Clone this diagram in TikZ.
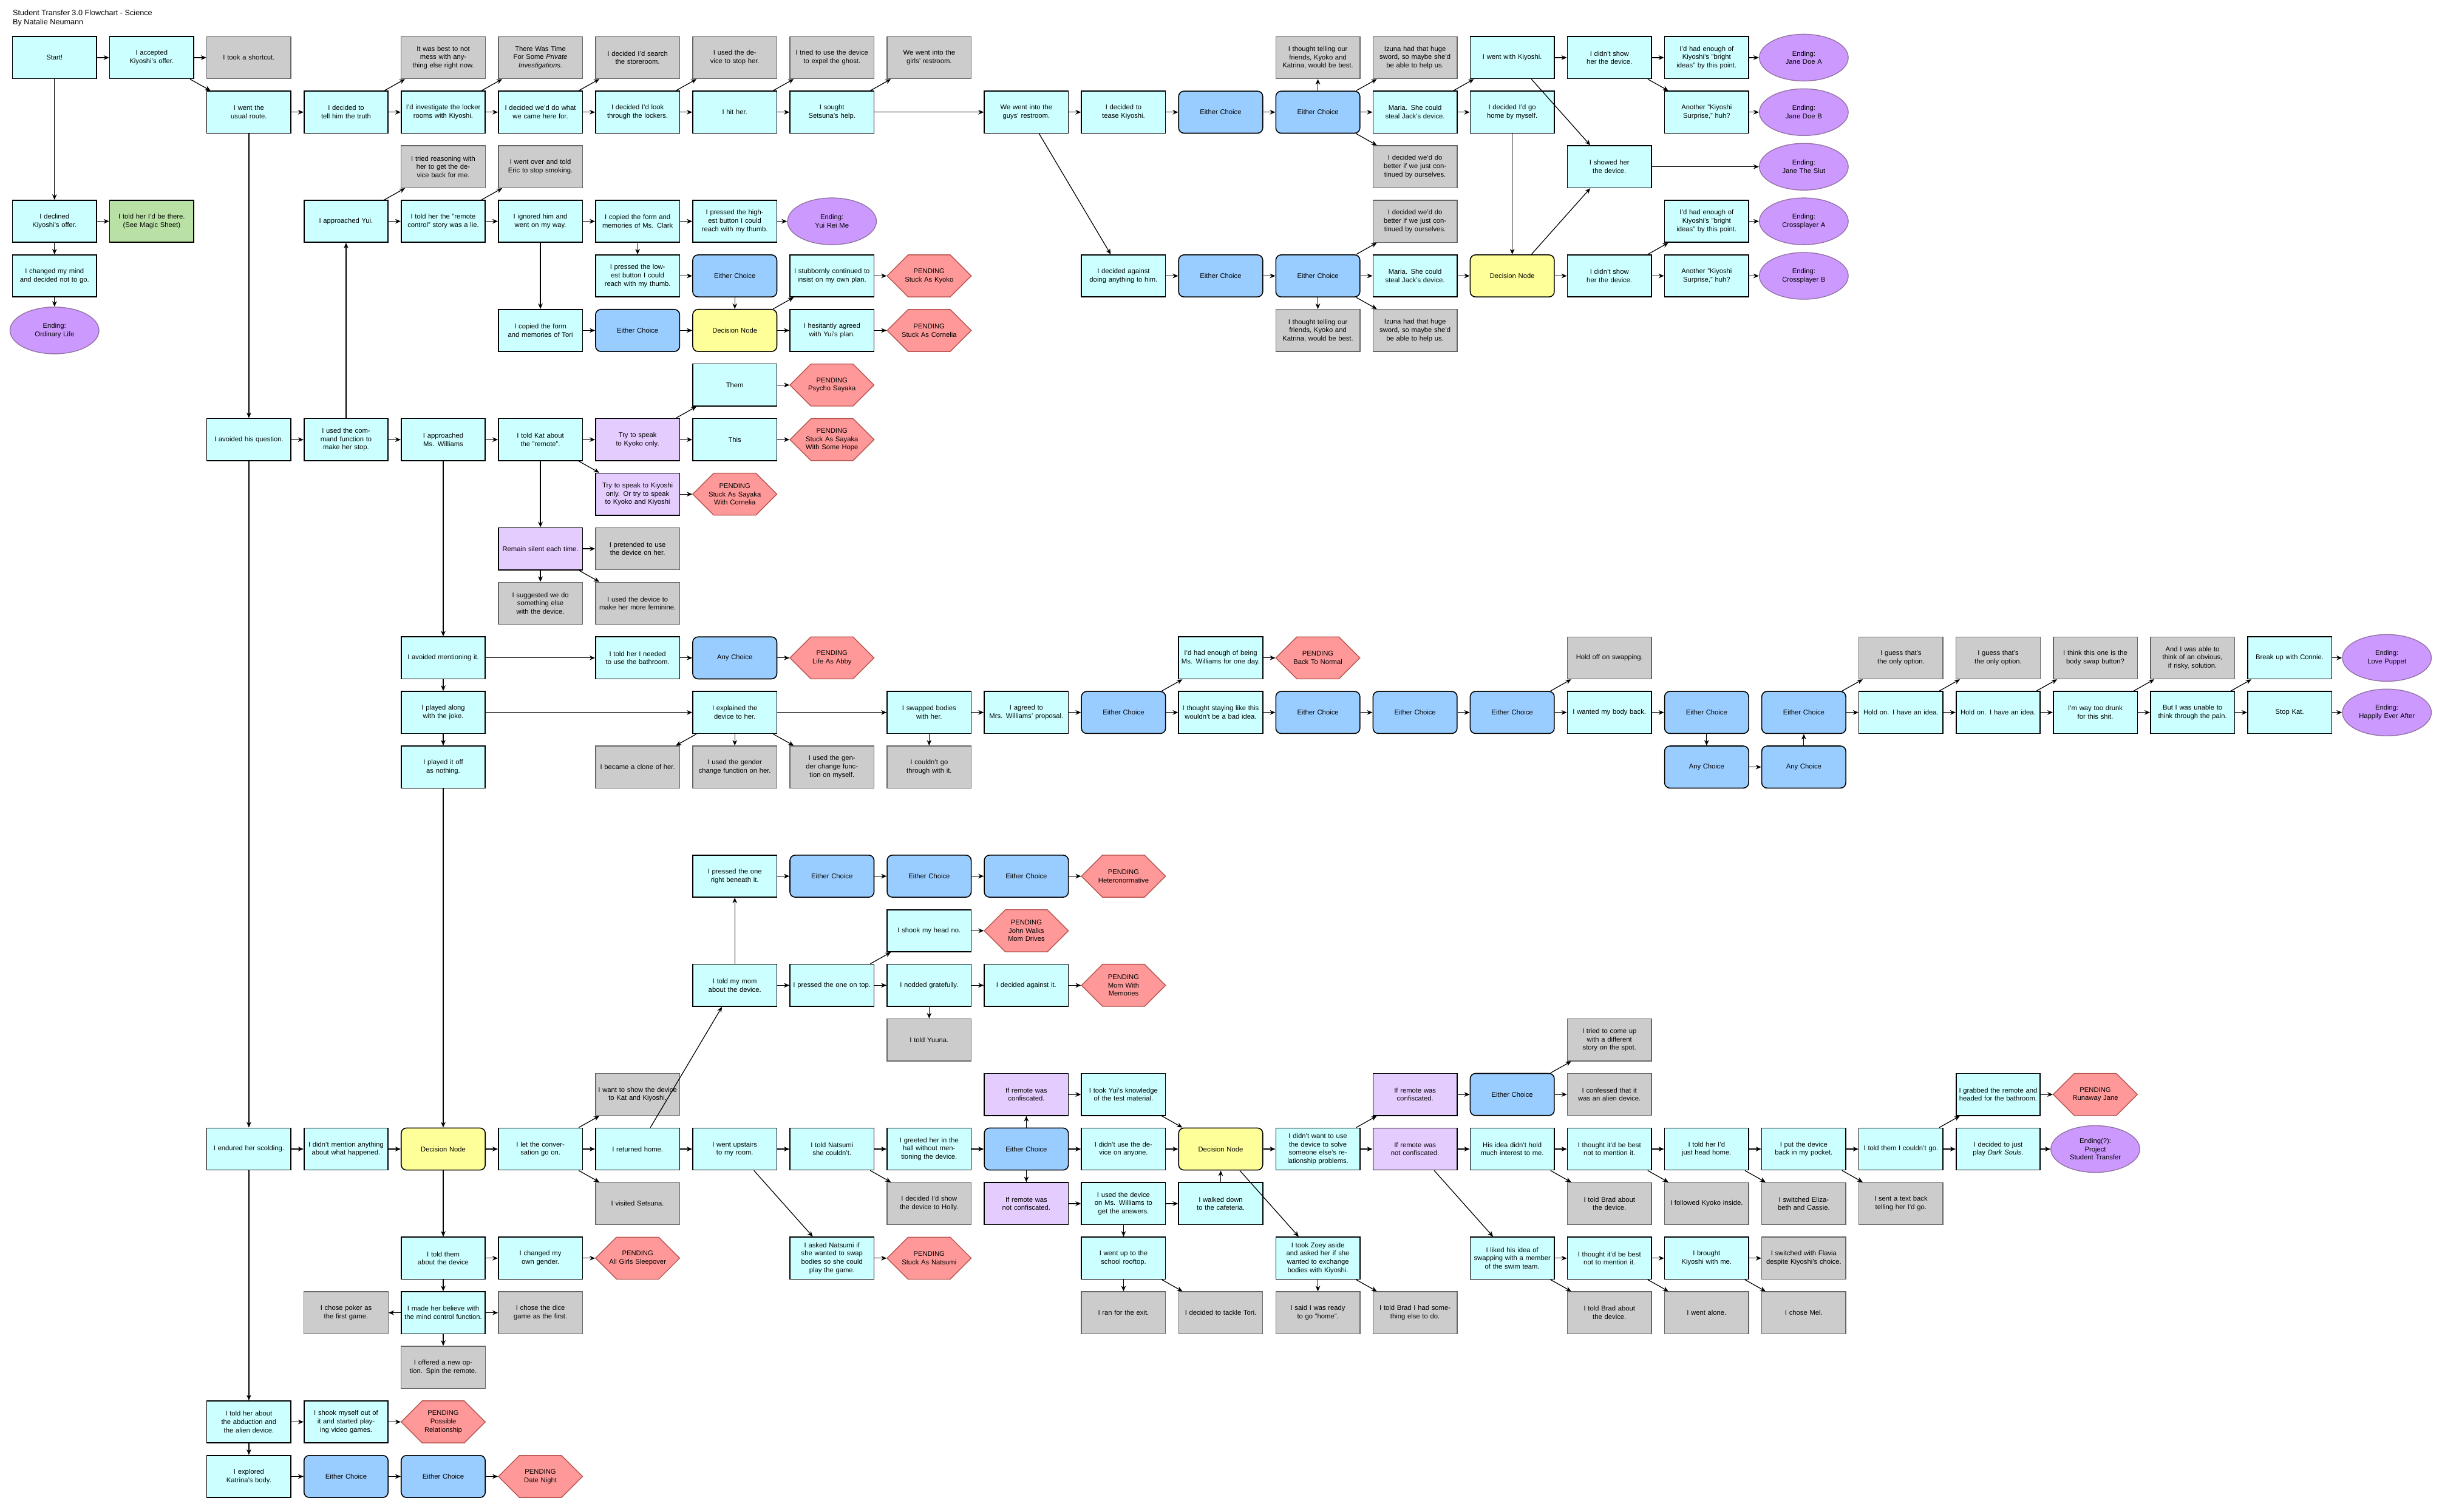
\documentclass[tikz,border=0pt]{standalone}
\usepackage{fontspec}
\setmainfont{Liberation Sans}
\usetikzlibrary{shapes.geometric,arrows.meta}
\definecolor{cyf}{HTML}{CCFFFF}
\definecolor{grf}{HTML}{CCCCCC}
\definecolor{grd}{HTML}{666666}
\definecolor{puf}{HTML}{E5CCFF}
\definecolor{blf}{HTML}{99CCFF}
\definecolor{yef}{HTML}{FFFF99}
\definecolor{gnf}{HTML}{B9E0A5}
\definecolor{enf}{HTML}{CC99FF}
\definecolor{end}{HTML}{9673A6}
\definecolor{hxf}{HTML}{FF9999}
\definecolor{hxd}{HTML}{B85450}
\tikzset{
 base/.style={minimum width=1.385cm,minimum height=0.693cm,inner sep=0.5pt,text width=1.3cm,align=center,font=\fontsize{3.2}{3.9}\selectfont},
 cy/.style={base,fill=cyf,draw=black,line width=0.45pt},
 gr/.style={base,fill=grf,draw=grd,line width=0.4pt},
 pu/.style={base,fill=puf,draw=black,line width=0.45pt},
 bl/.style={base,fill=blf,draw=black,line width=0.45pt,rounded corners=2.5pt},
 ye/.style={base,fill=yef,draw=black,line width=0.45pt,rounded corners=2.5pt},
 gn/.style={base,fill=gnf,draw=black,line width=0.45pt},
 en/.style={base,ellipse,fill=enf,draw=end,line width=0.4pt,minimum height=0.77cm,text width=1.0cm},
 hx/.style={base,text width=1.0cm},
 arr/.style={-{Stealth[length=2.6pt,width=2.2pt]},line width=0.35pt}
}
\newcommand\N[4]{\node[#1] (n#2-#3) at ({35+62.4*#2},{37+35.05*#3}) {#4};}
\newcommand\HX[3]{\filldraw[fill=hxf,draw=hxd,line width=0.4pt] ({35+62.4*#1-27},{37+35.05*#2}) -- ++(13.5,-13.5) -- ++(27,0) -- ++(13.5,13.5) -- ++(-13.5,13.5) -- ++(-27,0) -- cycle;
 \node[hx] (n#1-#2) at ({35+62.4*#1},{37+35.05*#2}) {PENDING\\#3};}
\begin{document}
\begin{tikzpicture}[x=0.02565cm,y=-0.02565cm]
\useasboundingbox (0,0) rectangle (1568,971);
\node[anchor=north west,align=left,inner sep=0,font=\fontsize{3.6}{4.4}\selectfont] (title) at (8,6) {Student Transfer 3.0 Flowchart - Science\\By Natalie Neumann};
% row 0
\N{cy}{0}{0}{Start!}
\N{cy}{1}{0}{I accepted\\Kiyoshi's offer.}
\N{gr}{2}{0}{I took a shortcut.}
\N{gr}{4}{0}{It was best to not mess with anything else right now.}
\N{gr}{5}{0}{There Was Time For Some \textit{Private Investigations}.}
\N{gr}{6}{0}{I decided I'd search the storeroom.}
\N{gr}{7}{0}{I used the device to stop her.}
\N{gr}{8}{0}{I tried to use the device to expel the ghost.}
\N{gr}{9}{0}{We went into the girls' restroom.}
\N{gr}{13}{0}{I thought telling our friends, Kyoko and Katrina, would be best.}
\N{gr}{14}{0}{Izuna had that huge sword, so maybe she'd be able to help us.}
\N{cy}{15}{0}{I went with Kiyoshi.}
\N{cy}{16}{0}{I didn't show her the device.}
\N{cy}{17}{0}{I'd had enough of Kiyoshi's "bright ideas" by this point.}
\N{en}{18}{0}{Ending:\\Jane Doe A}
% row 1
\N{cy}{2}{1}{I went the\\usual route.}
\N{cy}{3}{1}{I decided to\\tell him the truth}
\N{cy}{4}{1}{I'd investigate the locker rooms with Kiyoshi.}
\N{cy}{5}{1}{I decided we'd do what we came here for.}
\N{cy}{6}{1}{I decided I'd look through the lockers.}
\N{cy}{7}{1}{I hit her.}
\N{cy}{8}{1}{I sought\\Setsuna's help.}
\N{cy}{10}{1}{We went into the guys' restroom.}
\N{cy}{11}{1}{I decided to\\tease Kiyoshi.}
\N{bl}{12}{1}{Either Choice}
\N{bl}{13}{1}{Either Choice}
\N{cy}{14}{1}{Maria. She could steal Jack's device.}
\N{cy}{15}{1}{I decided I'd go home by myself.}
\N{cy}{17}{1}{Another "Kiyoshi Surprise," huh?}
\N{en}{18}{1}{Ending:\\Jane Doe B}
% row 2
\N{gr}{4}{2}{I tried reasoning with her to get the device back for me.}
\N{gr}{5}{2}{I went over and told Eric to stop smoking.}
\N{gr}{14}{2}{I decided we'd do better if we just continued by ourselves.}
\N{cy}{16}{2}{I showed her\\the device.}
\N{en}{18}{2}{Ending:\\Jane The Slut}
% row 3
\N{cy}{0}{3}{I declined\\Kiyoshi's offer.}
\N{gn}{1}{3}{I told her I'd be there. (See Magic Sheet)}
\N{cy}{3}{3}{I approached Yui.}
\N{cy}{4}{3}{I told her the "remote control" story was a lie.}
\N{cy}{5}{3}{I ignored him and went on my way.}
\N{cy}{6}{3}{I copied the form and memories of Ms. Clark}
\N{cy}{7}{3}{I pressed the highest button I could reach with my thumb.}
\N{en}{8}{3}{Ending:\\Yui Rei Me}
\N{gr}{14}{3}{I decided we'd do better if we just continued by ourselves.}
\N{cy}{17}{3}{I'd had enough of Kiyoshi's "bright ideas" by this point.}
\N{en}{18}{3}{Ending:\\Crossplayer A}
% row 4
\N{cy}{0}{4}{I changed my mind and decided not to go.}
\N{cy}{6}{4}{I pressed the lowest button I could reach with my thumb.}
\N{bl}{7}{4}{Either Choice}
\N{cy}{8}{4}{I stubbornly continued to insist on my own plan.}
\HX{9}{4}{Stuck As Kyoko}
\N{cy}{11}{4}{I decided against doing anything to him.}
\N{bl}{12}{4}{Either Choice}
\N{bl}{13}{4}{Either Choice}
\N{cy}{14}{4}{Maria. She could steal Jack's device.}
\N{ye}{15}{4}{Decision Node}
\N{cy}{16}{4}{I didn't show her the device.}
\N{cy}{17}{4}{Another "Kiyoshi Surprise," huh?}
\N{en}{18}{4}{Ending:\\Crossplayer B}
% row 5
\N{en}{0}{5}{Ending:\\Ordinary Life}
\N{cy}{5}{5}{I copied the form and memories of Tori}
\N{bl}{6}{5}{Either Choice}
\N{ye}{7}{5}{Decision Node}
\N{cy}{8}{5}{I hesitantly agreed with Yui's plan.}
\HX{9}{5}{Stuck As Cornelia}
\N{gr}{13}{5}{I thought telling our friends, Kyoko and Katrina, would be best.}
\N{gr}{14}{5}{Izuna had that huge sword, so maybe she'd be able to help us.}
% rows 6-10
\N{cy}{7}{6}{Them}
\HX{8}{6}{Psycho Sayaka}
\N{cy}{2}{7}{I avoided his question.}
\N{cy}{3}{7}{I used the command function to make her stop.}
\N{cy}{4}{7}{I approached\\Ms. Williams}
\N{cy}{5}{7}{I told Kat about the "remote".}
\N{pu}{6}{7}{Try to speak to Kyoko only.}
\N{cy}{7}{7}{This}
\HX{8}{7}{Stuck As Sayaka With Some Hope}
\N{pu}{6}{8}{Try to speak to Kiyoshi only. Or try to speak to Kyoko and Kiyoshi}
\HX{7}{8}{Stuck As Sayaka With Cornelia}
\N{pu}{5}{9}{Remain silent each time.}
\N{gr}{6}{9}{I pretended to use the device on her.}
\N{gr}{5}{10}{I suggested we do something else with the device.}
\N{gr}{6}{10}{I used the device to make her more feminine.}
% row 11
\N{cy}{4}{11}{I avoided mentioning it.}
\N{cy}{6}{11}{I told her I needed to use the bathroom.}
\N{bl}{7}{11}{Any Choice}
\HX{8}{11}{Life As Abby}
\N{cy}{12}{11}{I'd had enough of being Ms. Williams for one day.}
\HX{13}{11}{Back To Normal}
\N{gr}{16}{11}{Hold off on swapping.}
\N{gr}{19}{11}{I guess that's the only option.}
\N{gr}{20}{11}{I guess that's the only option.}
\N{gr}{21}{11}{I think this one is the body swap button?}
\N{gr}{22}{11}{And I was able to think of an obvious, if risky, solution.}
\N{cy}{23}{11}{Break up with Connie.}
\N{en}{24}{11}{Ending:\\Love Puppet}
% row 12
\N{cy}{4}{12}{I played along\\with the joke.}
\N{cy}{7}{12}{I explained the\\device to her.}
\N{cy}{9}{12}{I swapped bodies\\with her.}
\N{cy}{10}{12}{I agreed to\\Mrs. Williams' proposal.}
\N{bl}{11}{12}{Either Choice}
\N{cy}{12}{12}{I thought staying like this wouldn't be a bad idea.}
\N{bl}{13}{12}{Either Choice}
\N{bl}{14}{12}{Either Choice}
\N{bl}{15}{12}{Either Choice}
\N{cy}{16}{12}{I wanted my body back.}
\N{bl}{17}{12}{Either Choice}
\N{bl}{18}{12}{Either Choice}
\N{cy}{19}{12}{Hold on. I have an idea.}
\N{cy}{20}{12}{Hold on. I have an idea.}
\N{cy}{21}{12}{I'm way too drunk for this shit.}
\N{cy}{22}{12}{But I was unable to think through the pain.}
\N{cy}{23}{12}{Stop Kat.}
\N{en}{24}{12}{Ending:\\Happily Ever After}
% row 13
\N{cy}{4}{13}{I played it off\\as nothing.}
\N{gr}{6}{13}{I became a clone of her.}
\N{gr}{7}{13}{I used the gender change function on her.}
\N{gr}{8}{13}{I used the gender change function on myself.}
\N{gr}{9}{13}{I couldn't go through with it.}
\N{bl}{17}{13}{Any Choice}
\N{bl}{18}{13}{Any Choice}
% rows 15-18
\N{cy}{7}{15}{I pressed the one right beneath it.}
\N{bl}{8}{15}{Either Choice}
\N{bl}{9}{15}{Either Choice}
\N{bl}{10}{15}{Either Choice}
\HX{11}{15}{Heteronormative}
\N{cy}{9}{16}{I shook my head no.}
\HX{10}{16}{John Walks\\Mom Drives}
\N{cy}{7}{17}{I told my mom\\about the device.}
\N{cy}{8}{17}{I pressed the one on top.}
\N{cy}{9}{17}{I nodded gratefully.}
\N{cy}{10}{17}{I decided against it.}
\HX{11}{17}{Mom With Memories}
\N{gr}{9}{18}{I told Yuuna.}
\N{gr}{16}{18}{I tried to come up with a different story on the spot.}
% row 19
\N{gr}{6}{19}{I want to show the device to Kat and Kiyoshi.}
\N{pu}{10}{19}{If remote was confiscated.}
\N{cy}{11}{19}{I took Yui's knowledge of the test material.}
\N{pu}{14}{19}{If remote was confiscated.}
\N{bl}{15}{19}{Either Choice}
\N{gr}{16}{19}{I confessed that it was an alien device.}
\N{cy}{20}{19}{I grabbed the remote and headed for the bathroom.}
\HX{21}{19}{Runaway Jane}
% row 20
\N{cy}{2}{20}{I endured her scolding.}
\N{cy}{3}{20}{I didn't mention anything about what happened.}
\N{ye}{4}{20}{Decision Node}
\N{cy}{5}{20}{I let the conversation go on.}
\N{cy}{6}{20}{I returned home.}
\N{cy}{7}{20}{I went upstairs\\to my room.}
\N{cy}{8}{20}{I told Natsumi\\she couldn't.}
\N{cy}{9}{20}{I greeted her in the hall without mentioning the device.}
\N{bl}{10}{20}{Either Choice}
\N{cy}{11}{20}{I didn't use the device on anyone.}
\N{ye}{12}{20}{Decision Node}
\N{cy}{13}{20}{I didn't want to use the device to solve someone else's relationship problems.}
\N{pu}{14}{20}{If remote was not confiscated.}
\N{cy}{15}{20}{His idea didn't hold much interest to me.}
\N{cy}{16}{20}{I thought it'd be best not to mention it.}
\N{cy}{17}{20}{I told her I'd just head home.}
\N{cy}{18}{20}{I put the device back in my pocket.}
\N{cy}{19}{20}{I told them I couldn't go.}
\N{cy}{20}{20}{I decided to just play \textit{Dark Souls}.}
\N{en}{21}{20}{Ending(?):\\Project\\Student Transfer}
% row 21
\N{gr}{6}{21}{I visited Setsuna.}
\N{gr}{9}{21}{I decided I'd show the device to Holly.}
\N{pu}{10}{21}{If remote was not confiscated.}
\N{cy}{11}{21}{I used the device on Ms. Williams to get the answers.}
\N{cy}{12}{21}{I walked down to the cafeteria.}
\N{gr}{16}{21}{I told Brad about the device.}
\N{gr}{17}{21}{I followed Kyoko inside.}
\N{gr}{18}{21}{I switched Elizabeth and Cassie.}
\N{gr}{19}{21}{I sent a text back telling her I'd go.}
% row 22
\N{cy}{4}{22}{I told them about the device}
\N{cy}{5}{22}{I changed my own gender.}
\HX{6}{22}{All Girls Sleepover}
\N{cy}{8}{22}{I asked Natsumi if she wanted to swap bodies so she could play the game.}
\HX{9}{22}{Stuck As Natsumi}
\N{cy}{11}{22}{I went up to the school rooftop.}
\N{cy}{13}{22}{I took Zoey aside and asked her if she wanted to exchange bodies with Kiyoshi.}
\N{cy}{15}{22}{I liked his idea of swapping with a member of the swim team.}
\N{cy}{16}{22}{I thought it'd be best not to mention it.}
\N{cy}{17}{22}{I brought Kiyoshi with me.}
\N{gr}{18}{22}{I switched with Flavia despite Kiyoshi's choice.}
% row 23-26
\N{gr}{3}{23}{I chose poker as the first game.}
\N{cy}{4}{23}{I made her believe with the mind control function.}
\N{gr}{5}{23}{I chose the dice game as the first.}
\N{gr}{11}{23}{I ran for the exit.}
\N{gr}{12}{23}{I decided to tackle Tori.}
\N{gr}{13}{23}{I said I was ready to go "home".}
\N{gr}{14}{23}{I told Brad I had something else to do.}
\N{gr}{16}{23}{I told Brad about the device.}
\N{gr}{17}{23}{I went alone.}
\N{gr}{18}{23}{I chose Mel.}
\N{gr}{4}{24}{I offered a new option. Spin the remote.}
\N{cy}{2}{25}{I told her about the abduction and the alien device.}
\N{cy}{3}{25}{I shook myself out of it and started playing video games.}
\HX{4}{25}{Possible\\Relationship}
\N{cy}{2}{26}{I explored\\Katrina's body.}
\N{bl}{3}{26}{Either Choice}
\N{bl}{4}{26}{Either Choice}
\HX{5}{26}{Date Night}
% edges
\foreach \a/\b in {0-0/1-0,1-0/2-0,0-0/0-3,1-0/2-1,0-3/1-3,0-3/0-4,0-4/0-5,
 2-1/3-1,3-1/4-0,3-1/4-1,4-1/5-0,4-1/5-1,5-1/6-0,5-1/6-1,6-1/7-0,6-1/7-1,7-1/8-0,7-1/8-1,8-1/9-0,8-1/10-1,
 10-1/11-1,10-1/11-4,11-1/12-1,12-1/13-1,13-1/13-0,13-1/14-0,13-1/14-1,13-1/14-2,14-1/15-0,14-1/15-1,
 15-0/16-0,15-0/16-2,16-0/17-0,16-0/17-1,17-0/18-0,17-1/18-1,16-2/18-2,15-1/15-4,
 11-4/12-4,12-4/13-4,13-4/14-3,13-4/14-4,13-4/13-5,13-4/14-5,14-4/15-4,15-4/16-2,15-4/16-4,16-4/17-3,16-4/17-4,17-3/18-3,17-4/18-4,
 2-1/2-7,2-7/2-20,2-20/2-25,2-7/3-7,3-7/3-3,3-3/4-2,3-3/4-3,4-3/5-2,4-3/5-3,5-3/6-3,5-3/5-5,6-3/7-3,7-3/8-3,6-3/6-4,6-4/7-4,7-4/7-5,
 5-5/6-5,6-5/7-5,7-5/8-4,7-5/8-5,8-4/9-4,8-5/9-5,
 3-7/4-7,4-7/5-7,5-7/6-7,6-7/7-6,6-7/7-7,7-7/8-7,7-6/8-6,5-7/6-8,6-8/7-8,5-7/5-9,5-9/6-9,5-9/5-10,5-9/6-10,
 4-7/4-11,4-11/6-11,6-11/7-11,7-11/8-11,4-11/4-12,4-12/7-12,4-12/4-13,7-12/6-13,7-12/7-13,7-12/8-13,7-12/9-12,9-12/9-13,
 9-12/10-12,10-12/11-12,11-12/12-11,11-12/12-12,12-11/13-11,12-12/13-12,13-12/14-12,14-12/15-12,15-12/16-11,15-12/16-12,
 16-12/17-12,17-12/17-13,17-13/18-13,18-13/18-12,18-12/19-11,18-12/19-12,19-12/20-11,19-12/20-12,20-12/21-11,20-12/21-12,
 21-12/22-11,21-12/22-12,22-12/23-11,22-12/23-12,23-11/24-11,23-12/24-12,
 2-20/3-20,3-20/4-20,4-13/4-20,4-20/5-20,4-20/4-22,5-20/6-19,5-20/6-20,5-20/6-21,6-20/7-20,6-20/7-17,7-17/7-15,
 7-15/8-15,8-15/9-15,9-15/10-15,10-15/11-15,7-17/8-17,8-17/9-16,8-17/9-17,9-17/10-17,10-17/11-17,9-16/10-16,9-17/9-18,
 7-20/8-20,7-20/8-22,8-20/9-20,8-20/9-21,8-22/9-22,9-20/10-20,10-20/10-19,10-20/11-20,10-20/10-21,10-19/11-19,10-21/11-21,
 11-19/12-20,11-20/12-20,11-21/12-21,12-21/12-20,11-21/11-22,11-22/11-23,11-22/12-23,12-20/13-20,12-20/13-22,13-22/13-23,13-22/14-23,
 13-20/14-19,13-20/14-20,14-19/15-19,15-19/16-18,15-19/16-19,14-20/15-20,14-20/15-22,15-20/16-20,15-20/16-21,15-22/16-22,15-22/16-23,
 16-20/17-20,16-20/17-21,17-20/18-20,17-20/18-21,18-20/19-20,18-20/19-21,19-20/20-19,19-20/20-20,20-19/21-19,20-20/21-20,
 16-22/17-22,16-22/17-23,17-22/18-22,17-22/18-23,
 4-22/5-22,5-22/6-22,4-22/4-23,4-23/3-23,4-23/5-23,4-23/4-24,
 2-25/3-25,3-25/4-25,2-25/2-26,2-26/3-26,3-26/4-26,4-26/5-26}
 \draw[arr] (n\a) -- (n\b);
\end{tikzpicture}
\end{document}
